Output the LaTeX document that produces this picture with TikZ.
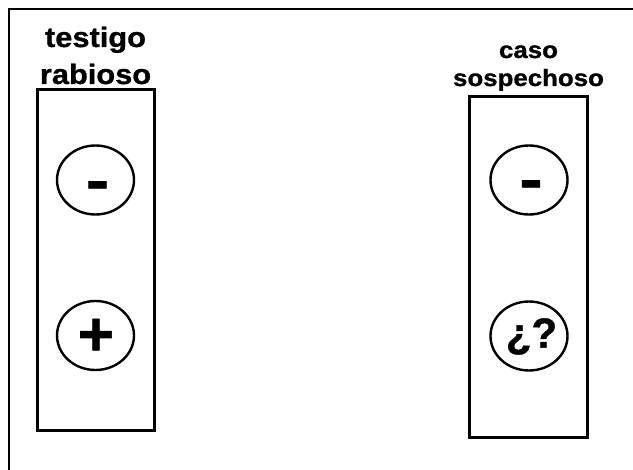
\documentclass[tikz,border=0pt]{standalone}
\usepackage{fontspec}
\usetikzlibrary{shapes.geometric}
% Heavy, slightly widened sans for the headings and the signs
\newfontfamily\lblfont{Liberation Sans Bold}[FakeStretch=1.1, FakeBold=1]
\newfontfamily\wideminus{Liberation Sans Bold}[FakeStretch=1.2, FakeBold=1]
\newfontfamily\symfont{Liberation Sans Bold}[FakeBold=1]
\tikzset{
  frameline/.style={line width=2pt},
  panel/.style={draw, line width=3pt, rectangle, inner sep=0pt,
    minimum width=117pt, minimum height=341pt},
  well/.style={draw, line width=2.4pt, ellipse, inner sep=0pt,
    minimum width=77pt, minimum height=69pt},
  heading/.style={align=center, inner sep=0pt, anchor=base},
  sign/.style={inner sep=0pt},
}
\begin{document}
\begin{tikzpicture}[x=1pt, y=-1pt]
  \useasboundingbox (0,0) rectangle (633,470);
  % open frame along the top and left edges
  \coordinate (fbl) at (9,471);
  \coordinate (ftl) at (9,9);
  \coordinate (ftr) at (634,9);
  \draw[frameline] (fbl) -- (ftl) -- (ftr);

  % left column: reference sample
  \node[panel] (lbox) at (95.5,260.5) {};
  \node[heading, font=\fontsize{28}{37}\selectfont\lblfont] (ltitle) at (95.5,84) {testigo\\rabioso};
  \node[well] (lneg) at (95.5,180) {};
  \node[well] (lpos) at (95.5,335.5) {};
  \node[sign, anchor=base, font=\fontsize{58}{58}\selectfont\wideminus] (lnegs) at (97.5,200) {-};
  \node[sign, font=\fontsize{62}{62}\selectfont\symfont] (lposs) at (96,337) {+};

  % right column: suspected case
  \node[panel, minimum width=118pt] (rbox) at (528,267.5) {};
  \node[heading, font=\fontsize{23.5}{28}\selectfont\lblfont] (rtitle) at (528.5,86) {caso\\sospechoso};
  \node[well] (rneg) at (529,180) {};
  \node[well] (rq) at (529,336) {};
  \node[sign, anchor=base, font=\fontsize{58}{58}\selectfont\wideminus] (rnegs) at (531,199) {-};
  \node[sign, font=\fontsize{42}{42}\selectfont\symfont] (rqs) at (531.5,336.5) {¿?};
\end{tikzpicture}
\end{document}
